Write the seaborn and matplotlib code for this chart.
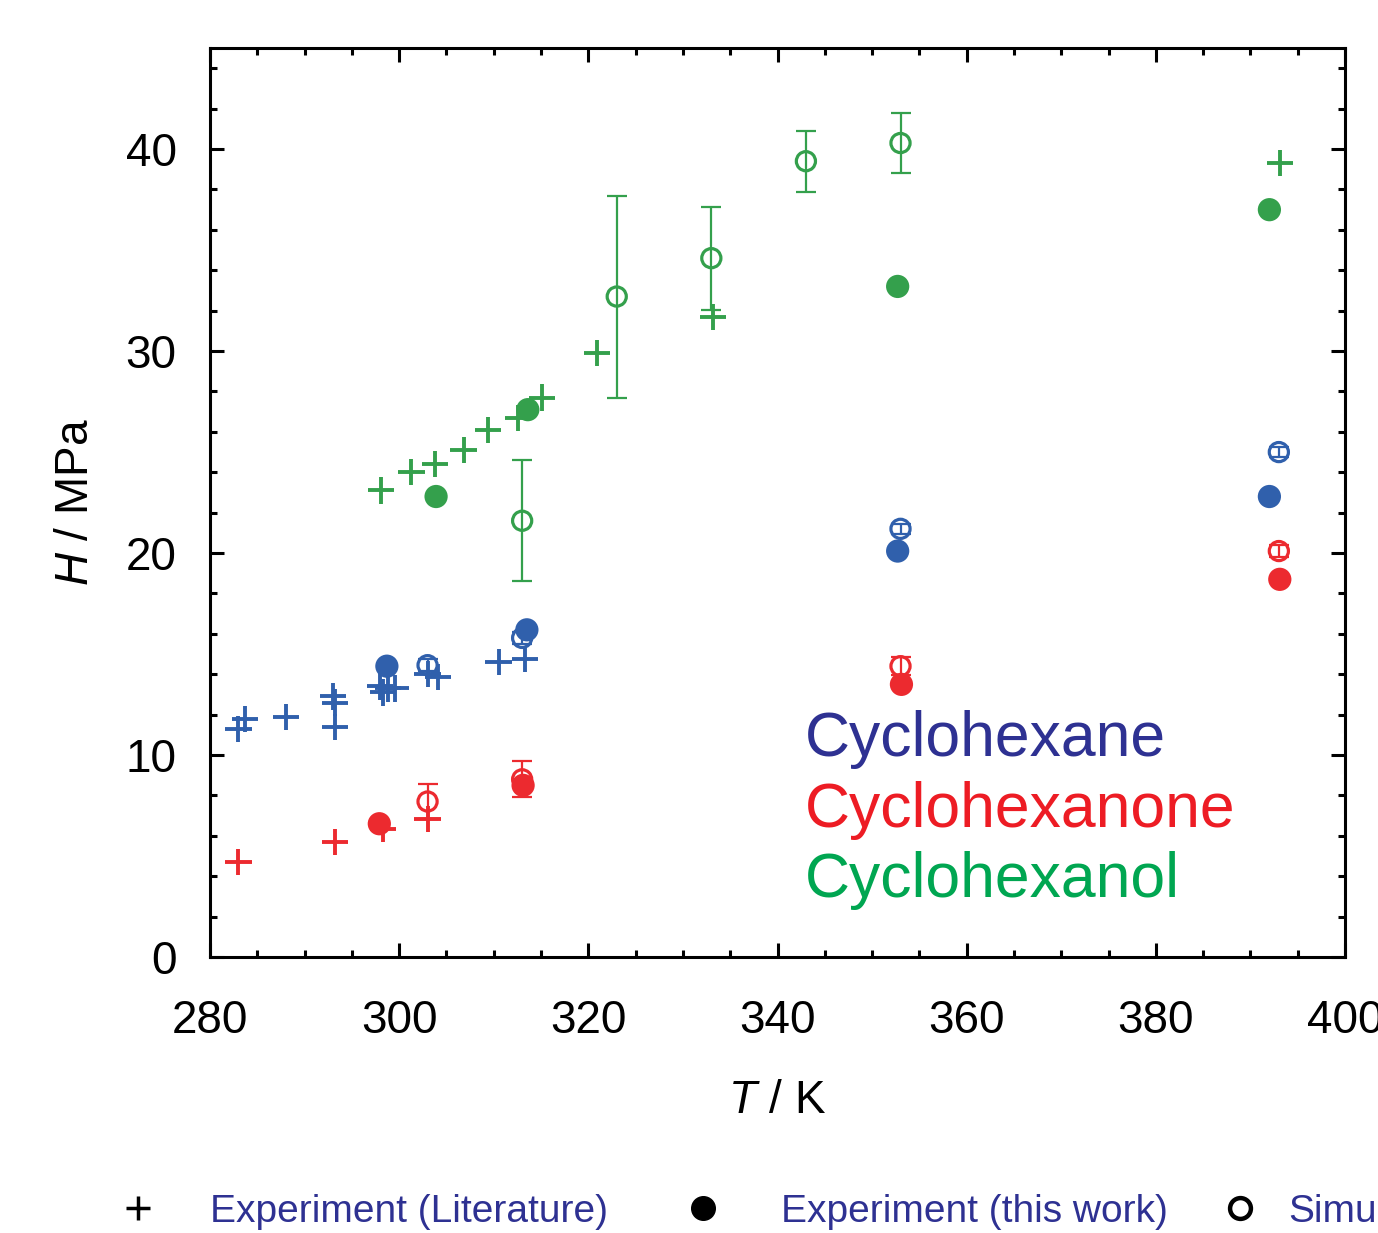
import pandas as pd
import matplotlib.pyplot as plt
import seaborn as sns
from matplotlib.lines import Line2D
from matplotlib.ticker import MultipleLocator

# =========================
# Data
# =========================

substances = ["Cyclohexane", "Cyclohexanone", "Cyclohexanol"]

# Cyclohexane
hex_lit_T = [283.0, 283.7, 288.0, 293.0, 293.2, 293.2, 298.0, 298.3, 298.8, 299.6, 303.0, 304.1, 310.5, 313.3]
hex_lit_H = [11.3, 11.8, 11.9, 12.9, 12.6, 11.4, 13.4, 13.1, 13.3, 13.3, 14.0, 13.85, 14.6, 14.75]
hex_exp_T = [298.7, 313.5, 352.7, 392.0]
hex_exp_H = [14.4, 16.2, 20.1, 22.8]
hex_sim_T = [303.0, 313.0, 353.0, 393.0]
hex_sim_H = [14.45, 15.8, 21.2, 25.0]
hex_sim_err = [0.3, 0.3, 0.25, 0.25]

# Cyclohexanone
one_lit_T = [283.0, 293.2, 298.3, 303.0]
one_lit_H = [4.7, 5.7, 6.35, 6.85]
one_exp_T = [297.9, 313.1, 353.1, 393.1]
one_exp_H = [6.6, 8.5, 13.5, 18.7]
one_sim_T = [303.0, 313.0, 353.0, 393.0]
one_sim_H = [7.7, 8.8, 14.4, 20.1]
one_sim_err = [0.85, 0.9, 0.45, 0.3]

# Cyclohexanol
ol_lit_T = [298.1, 301.3, 303.8, 306.8, 309.4, 312.6, 315.1, 320.9, 333.2, 393.1]
ol_lit_H = [23.1, 24.0, 24.4, 25.1, 26.1, 26.7, 27.7, 29.9, 31.7, 39.3]
ol_exp_T = [303.9, 313.6, 352.7, 392.0]
ol_exp_H = [22.8, 27.1, 33.2, 37.0]
ol_sim_T = [313.0, 323.0, 333.0, 343.0, 353.0]
ol_sim_H = [21.6, 32.7, 34.6, 39.4, 40.3]
ol_sim_err = [3.0, 5.0, 2.55, 1.5, 1.5]

marker_colors = ["#3060ac", "#ec2a2f", "#34a04c"]
label_colors = ["#2e3192", "#ed1c24", "#00a651"]

legend_labels = ["Experiment (Literature)", "Experiment (this work)", "Simulation"]

# =========================
# Tables
# =========================

lit = pd.concat([
    pd.DataFrame({"T": hex_lit_T, "H": hex_lit_H, "substance": substances[0]}),
    pd.DataFrame({"T": one_lit_T, "H": one_lit_H, "substance": substances[1]}),
    pd.DataFrame({"T": ol_lit_T, "H": ol_lit_H, "substance": substances[2]}),
])

exp = pd.concat([
    pd.DataFrame({"T": hex_exp_T, "H": hex_exp_H, "substance": substances[0]}),
    pd.DataFrame({"T": one_exp_T, "H": one_exp_H, "substance": substances[1]}),
    pd.DataFrame({"T": ol_exp_T, "H": ol_exp_H, "substance": substances[2]}),
])

sim = {
    substances[0]: (hex_sim_T, hex_sim_H, hex_sim_err),
    substances[1]: (one_sim_T, one_sim_H, one_sim_err),
    substances[2]: (ol_sim_T, ol_sim_H, ol_sim_err),
}

palette = dict(zip(substances, marker_colors))

# =========================
# Style
# =========================

sns.set_theme(style="ticks")
plt.rcParams["font.family"] = ["Liberation Sans", "DejaVu Sans"]
plt.rcParams["mathtext.fontset"] = "custom"
plt.rcParams["mathtext.it"] = "Liberation Sans:italic"
plt.rcParams["mathtext.rm"] = "Liberation Sans"
plt.rcParams["text.color"] = "black"
plt.rcParams["axes.labelcolor"] = "black"
plt.rcParams["xtick.color"] = "black"
plt.rcParams["ytick.color"] = "black"

fig = plt.figure(figsize=(13.78, 12.33), dpi=100)
ax = fig.add_axes([0.1524, 0.2238, 0.8237, 0.7372])

# =========================
# Plot
# =========================

sns.scatterplot(
    data=lit, x="T", y="H",
    hue="substance", palette=palette,
    marker="+", s=360, linewidth=2.8,
    legend=False, ax=ax, zorder=3
)

for name in substances:
    T, H, err = sim[name]
    c = palette[name]
    ax.errorbar(
        T, H, yerr=err,
        fmt="none", ecolor=c,
        elinewidth=1.6, capsize=7.5, capthick=1.6,
        zorder=3
    )
    ax.scatter(
        T, H, s=190, facecolors="none",
        edgecolors=c, linewidths=2.3, zorder=4
    )

sns.scatterplot(
    data=exp, x="T", y="H",
    hue="substance", palette=palette,
    marker="o", s=280, linewidth=0,
    legend=False, ax=ax, zorder=5
)

# inline substance labels
for i, name in enumerate(substances):
    ax.text(
        342.9, 10.75 - i * 3.47, name,
        color=label_colors[i], fontsize=45,
        va="center", ha="left"
    )

# =========================
# Axes
# =========================

ax.set_xlim(280, 400)
ax.set_ylim(0, 45)
ax.xaxis.set_major_locator(MultipleLocator(20))
ax.xaxis.set_minor_locator(MultipleLocator(5))
ax.yaxis.set_major_locator(MultipleLocator(10))
ax.yaxis.set_minor_locator(MultipleLocator(2))

ax.tick_params(
    which="both", direction="in",
    top=True, right=True, width=2.2, color="black"
)
ax.tick_params(which="major", length=10, labelsize=33, labelcolor="black")
ax.tick_params(which="minor", length=5)
ax.tick_params(axis="x", which="major", pad=30)
ax.tick_params(axis="y", which="major", pad=24)

for spine in ax.spines.values():
    spine.set_linewidth(2.2)
    spine.set_color("black")

ax.set_xlabel("$T$ / K", fontsize=33, labelpad=26, color="black")
ax.set_ylabel("$H$ / MPa", fontsize=33, labelpad=20, color="black")

# =========================
# Bottom legend (one box per entry)
# =========================

handles = [
    Line2D([], [], marker="+", color="black", ls="none", ms=17, mew=2.5),
    Line2D([], [], marker="o", color="black", ls="none", ms=17),
    Line2D([], [], marker="o", mfc="none", mec="black", ls="none", ms=15, mew=3.2),
]
legend_left = [119, 684, 1221]
legend_pad = [1.35, 1.5, 0.74]

for h, lab, left, pad in zip(handles, legend_labels, legend_left, legend_pad):
    fig.legend(
        [h], [lab],
        loc="center left",
        bbox_to_anchor=(left / 1378, 1 - 1212 / 1233),
        frameon=False,
        fontsize=28, labelcolor="#2e3192",
        handlelength=1.0, handletextpad=pad,
        borderpad=0, borderaxespad=0
    )

fig.savefig("out.png", dpi=100)
